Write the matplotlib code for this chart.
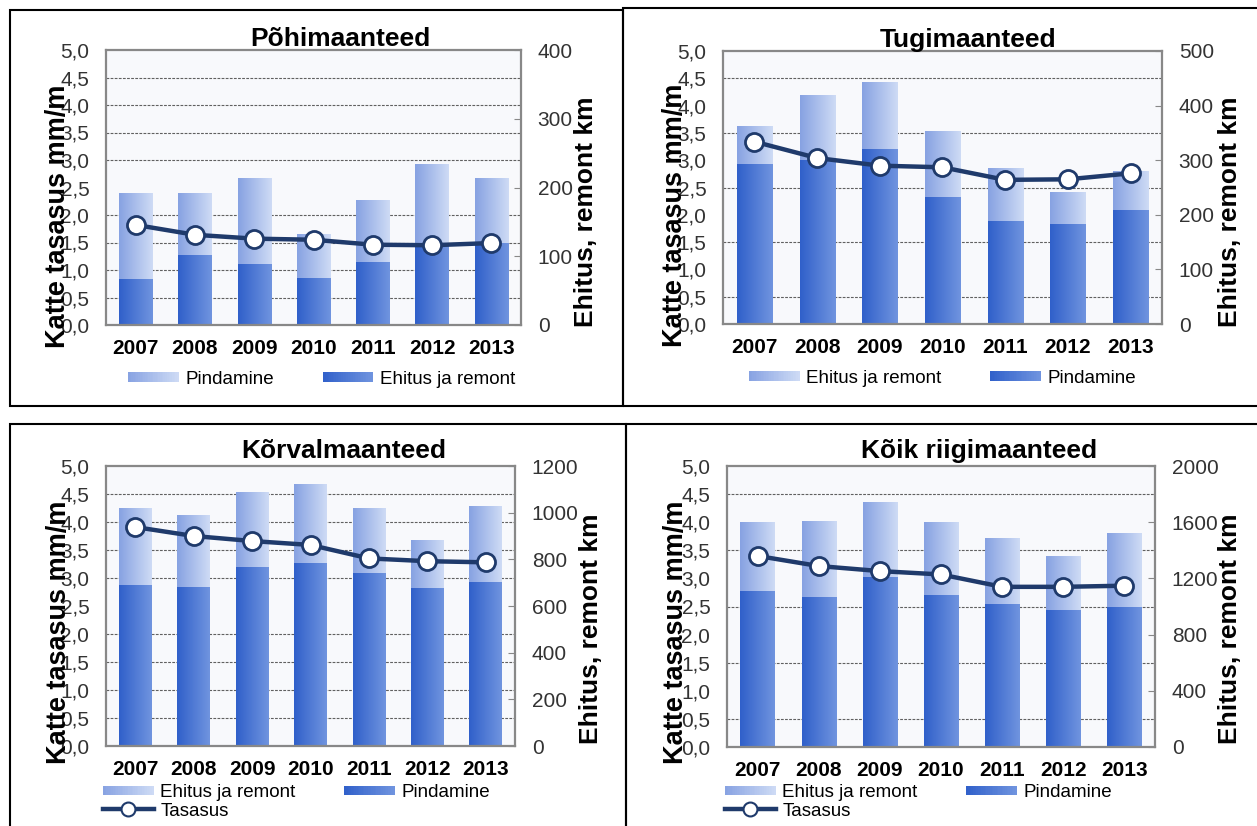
import matplotlib
matplotlib.use('Agg')
import matplotlib.pyplot as plt
import numpy as np
from matplotlib.colors import LinearSegmentedColormap
from matplotlib.legend_handler import HandlerBase
from matplotlib.lines import Line2D
from matplotlib.patches import Patch, Rectangle

plt.rcParams['font.family'] = ['Liberation Sans', 'DejaVu Sans']

years = ['2007', '2008', '2009', '2010', '2011', '2012', '2013']
titles = ['Põhimaanteed', 'Tugimaanteed', 'Kõrvalmaanteed', 'Kõik riigimaanteed']

# bar parts in km: lower (dark) and upper (light) segment
pohi_dark = [67, 102, 89, 69, 91, 115, 119]
pohi_light = [125, 89, 124, 64, 89, 119, 94]
tugi_dark = [293, 301, 320, 232, 188, 183, 209]
tugi_light = [69, 119, 122, 120, 96, 58, 70]
korval_dark = [692, 681, 768, 785, 742, 675, 703]
korval_light = [328, 308, 318, 335, 278, 203, 324]
koik_dark = [1110, 1065, 1212, 1082, 1018, 975, 999]
koik_light = [488, 535, 528, 518, 466, 381, 521]

# tasasus, mm/m
pohi_tasasus = [1.82, 1.64, 1.57, 1.55, 1.46, 1.45, 1.49]
tugi_tasasus = [3.34, 3.04, 2.90, 2.87, 2.64, 2.65, 2.76]
korval_tasasus = [3.91, 3.75, 3.66, 3.59, 3.35, 3.30, 3.28]
koik_tasasus = [3.40, 3.22, 3.13, 3.07, 2.85, 2.85, 2.87]

km_max = [400, 500, 1200, 2000]
km_step = [100, 100, 200, 400]
light_names = ['Pindamine', 'Ehitus ja remont', 'Ehitus ja remont', 'Ehitus ja remont']
dark_names = ['Ehitus ja remont', 'Pindamine', 'Pindamine', 'Pindamine']
line_name = 'Tasasus'

W, H = 1257, 826
NAVY = '#1F3A6B'
dark_cmap = LinearSegmentedColormap.from_list('dk', ['#3060CA', '#7094DF'])
light_cmap = LinearSegmentedColormap.from_list('lt', ['#87A2E2', '#CEDBF5'])

# pixel layout of each panel
layout = [
    dict(ax=(106, 50, 521, 325), tx=340, ty=46, yl=(65, 216), yr=(593, 212), leg=(128, 379), tas=False),
    dict(ax=(723, 51, 1162, 324), tx=968, ty=47, yl=(682, 215), yr=(1237, 212), leg=(749, 378), tas=False),
    dict(ax=(106, 466, 515, 746), tx=344, ty=458, yl=(66, 632), yr=(598, 629), leg=(103, 784), tas=True),
    dict(ax=(727, 466, 1155, 747), tx=979, ty=458, yl=(683, 632), yr=(1237, 629), leg=(725, 784), tas=True),
]
borders = [(9.5, 9.5, 623, 406), (623, 8.5, 1262, 406), (9.5, 424, 626, 832), (626, 424, 1262, 832)]


def fx(px):
    return px / W


def fy(py):
    return 1 - py / H


class GradHandler(HandlerBase):
    def __init__(self, cmap):
        super().__init__()
        self.cmap = cmap

    def create_artists(self, legend, orig_handle, xdescent, ydescent, width, height, fontsize, trans):
        n = 30
        h = height * 0.7
        y0 = -ydescent + (height - h) / 2
        arts = []
        for i in range(n):
            arts.append(Rectangle((-xdescent + width * i / n, y0), width / n * 1.05, h,
                                  facecolor=self.cmap((i + 0.5) / n), edgecolor='none',
                                  transform=trans))
        return arts


def grad_fill(ax, patches, cmap):
    grad = np.linspace(0, 1, 64).reshape(1, -1)
    for p in patches:
        x0, y0 = p.get_x(), p.get_y()
        ax.imshow(grad, extent=[x0, x0 + p.get_width(), y0, y0 + p.get_height()],
                  aspect='auto', cmap=cmap, interpolation='bilinear', zorder=2)
        p.set_visible(False)


fig = plt.figure(figsize=(W / 100, H / 100), dpi=100)

darks = [pohi_dark, tugi_dark, korval_dark, koik_dark]
lights = [pohi_light, tugi_light, korval_light, koik_light]
lines = [pohi_tasasus, tugi_tasasus, korval_tasasus, koik_tasasus]

for i in range(4):
    L = layout[i]
    l, t, r, b = L['ax']
    ax = fig.add_axes([fx(l), fy(b), fx(r - l), (b - t) / H])
    ax2 = ax.twinx()
    x = np.arange(len(years))

    b1 = ax.bar(x, darks[i], width=0.56)
    b2 = ax.bar(x, lights[i], bottom=darks[i], width=0.56)
    grad_fill(ax, b1, dark_cmap)
    grad_fill(ax, b2, light_cmap)

    ax.set_xlim(-0.5, len(years) - 0.5)
    ax.set_ylim(0, km_max[i])
    ax.set_facecolor('#F8F9FC')
    ax.set_axisbelow(True)
    ax.set_yticks(np.arange(0, km_max[i] + 1, km_step[i]))
    ax.set_yticks(np.linspace(0, km_max[i], 11)[1:-1], minor=True)
    ax.yaxis.tick_right()
    ax.grid(which='minor', axis='y', color='#606060', linestyle=(0, (2.5, 1.2)), linewidth=0.8)
    ax.tick_params(axis='y', which='major', direction='in', length=5, color='#888888',
                   labelsize=15, labelcolor='#333333', pad=12)
    ax.tick_params(axis='y', which='minor', length=0)
    ax.set_xticks(x)
    ax.set_xticklabels(years, fontsize=15, fontweight='bold')
    ax.tick_params(axis='x', length=0, pad=10)
    for s in ax.spines.values():
        s.set_color('#888888')
        s.set_linewidth(1.6)

    ax2.plot(x, lines[i], color=NAVY, lw=3.2, marker='o', ms=13, mfc='white', mec=NAVY, mew=2,
             zorder=5)
    ax2.set_ylim(0, 5)
    ticks = np.arange(0, 5.01, 0.5)
    ax2.set_yticks(ticks)
    ax2.set_yticklabels([f'{v:.1f}'.replace('.', ',') for v in ticks])
    ax2.yaxis.tick_left()
    ax2.tick_params(axis='y', length=0, labelsize=15, labelcolor='#333333', pad=12)
    for s in ax2.spines.values():
        s.set_visible(False)

    ax.text((L['tx'] - l) / (r - l), 1 + (t - L['ty']) / (b - t), titles[i], transform=ax.transAxes,
            ha='center', va='baseline', fontsize=19, fontweight='bold')
    fig.text(fx(L['yl'][0]), fy(L['yl'][1]), 'Katte tasasus mm/m', rotation=90,
             rotation_mode='anchor', ha='center', va='baseline', fontsize=19.5, fontweight='bold')
    fig.text(fx(L['yr'][0]), fy(L['yr'][1]), 'Ehitus, remont km', rotation=90,
             rotation_mode='anchor', ha='center', va='baseline', fontsize=19, fontweight='bold')

    h_light = Patch(label=light_names[i])
    h_dark = Patch(label=dark_names[i])
    hmap = {h_light: GradHandler(light_cmap), h_dark: GradHandler(dark_cmap)}
    if L['tas']:
        h_line = Line2D([], [], color=NAVY, lw=3.2, marker='o', ms=10, mfc='white', mec=NAVY,
                        mew=1.5, label=line_name)
        handles = [h_light, h_line, h_dark]
        loc = 'upper left'
    else:
        handles = [h_light, h_dark]
        loc = 'center left'
    fig.legend(handles=handles, handler_map=hmap, ncol=2, loc=loc,
               bbox_to_anchor=(fx(L['leg'][0]), fy(L['leg'][1])), frameon=False,
               fontsize=13.5, borderpad=0, borderaxespad=0, handlelength=2.7,
               handletextpad=0.35, columnspacing=2.6, labelspacing=0.08)

for (l, t, r, b) in borders:
    fig.add_artist(Rectangle((fx(l), fy(b)), fx(r - l), (b - t) / H, transform=fig.transFigure,
                             fill=False, edgecolor='black', linewidth=1.5))

fig.savefig('out.png', dpi=100)
